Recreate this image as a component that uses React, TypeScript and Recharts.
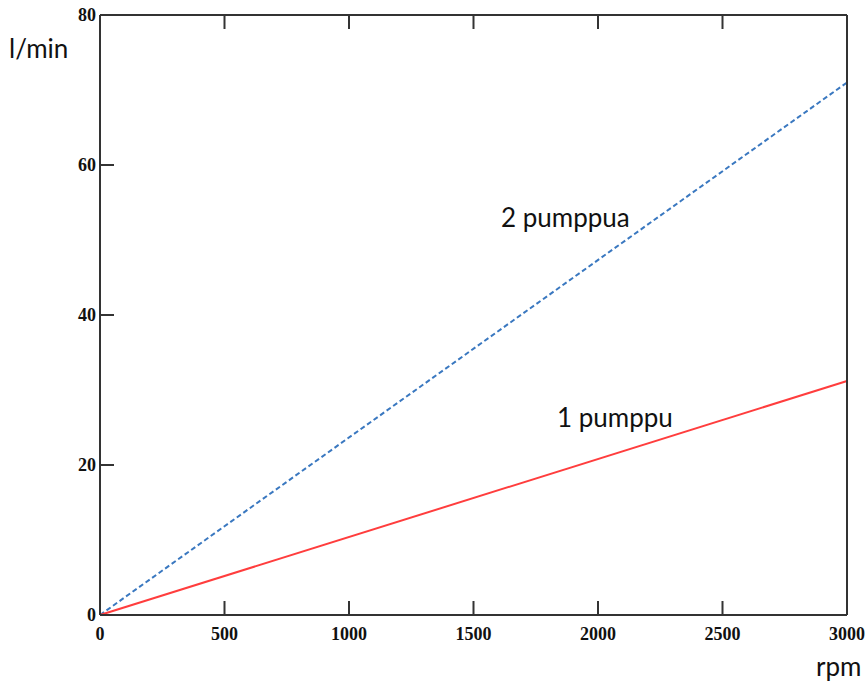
import { LineChart, Line, XAxis, YAxis } from "recharts";

// rpm vs flow (l/min)
const rpm = [0, 3000];
const onePump = [0, 31.2];
const twoPumps = [0, 71];

const xTicks = [0, 500, 1000, 1500, 2000, 2500, 3000];
const yTicks = [0, 20, 40, 60, 80];

const data = rpm.map((r, i) => ({ rpm: r, one: onePump[i], two: twoPumps[i] }));

const TICK_LEN = 14;
const GAP = 12;
const lineCol = "#333";

const textProps = {
  fontFamily: "Liberation Serif",
  fontWeight: "bold",
  fontSize: 18,
  fill: "#111",
};

// inward tick marks, drawn from the axis position recharts gives us
const InTick = ({ x, y, payload, side }: any) => {
  let line;
  let label = null;
  if (side === "bottom") {
    const ay = y - GAP;
    line = <line x1={x} x2={x} y1={ay} y2={ay - TICK_LEN} stroke={lineCol} strokeWidth={2} />;
    label = (
      <text x={x} y={ay + GAP} dy={13} textAnchor="middle" {...textProps}>
        {payload.value}
      </text>
    );
  } else if (side === "top") {
    const ay = y + GAP;
    line = <line x1={x} x2={x} y1={ay} y2={ay + TICK_LEN} stroke={lineCol} strokeWidth={2} />;
  } else if (side === "left") {
    const ax = x + GAP;
    line = <line x1={ax} x2={ax + TICK_LEN} y1={y} y2={y} stroke={lineCol} strokeWidth={2} />;
    label = (
      <text x={ax - 4} y={y} dy={6} textAnchor="end" {...textProps}>
        {payload.value}
      </text>
    );
  } else {
    const ax = x - GAP;
    line = <line x1={ax} x2={ax - TICK_LEN} y1={y} y2={y} stroke={lineCol} strokeWidth={2} />;
  }
  return (
    <g>
      {line}
      {label}
    </g>
  );
};

const axisStroke = { stroke: lineCol, strokeWidth: 2 };
const labelFont: React.CSSProperties = {
  position: "absolute",
  fontFamily: "Lato",
  fontSize: 26,
  color: "#111",
  whiteSpace: "nowrap",
  lineHeight: 1,
};

export default function App() {
  return (
    <div style={{ position: "absolute", left: 0, top: 0, width: 868, height: 683, background: "#fff" }}>
      <LineChart
        width={868}
        height={683}
        data={data}
        margin={{ top: 14, right: 20, bottom: 38, left: 50 }}
      >
        <XAxis
          xAxisId="b"
          dataKey="rpm"
          type="number"
          domain={[0, 3000]}
          ticks={xTicks}
          height={30}
          axisLine={axisStroke}
          tickLine={false}
          tickSize={0}
          tickMargin={GAP}
          tick={<InTick side="bottom" />}
          interval={0}
        />
        <XAxis
          xAxisId="t"
          orientation="top"
          dataKey="rpm"
          type="number"
          domain={[0, 3000]}
          ticks={xTicks}
          height={1}
          axisLine={axisStroke}
          tickLine={false}
          tickSize={0}
          tickMargin={GAP}
          tick={<InTick side="top" />}
          interval={0}
        />
        <YAxis
          yAxisId="l"
          type="number"
          domain={[0, 80]}
          ticks={yTicks}
          width={50}
          axisLine={axisStroke}
          tickLine={false}
          tickSize={0}
          tickMargin={GAP}
          tick={<InTick side="left" />}
          interval={0}
        />
        <YAxis
          yAxisId="r"
          orientation="right"
          type="number"
          domain={[0, 80]}
          ticks={yTicks}
          width={1}
          axisLine={axisStroke}
          tickLine={false}
          tickSize={0}
          tickMargin={GAP}
          tick={<InTick side="right" />}
          interval={0}
        />
        <Line
          xAxisId="b"
          yAxisId="l"
          type="linear"
          dataKey="two"
          stroke="#3a78c0"
          strokeWidth={2}
          strokeDasharray="5 3"
          dot={false}
          isAnimationActive={false}
        />
        <Line
          xAxisId="b"
          yAxisId="l"
          type="linear"
          dataKey="one"
          stroke="#ff3d3d"
          strokeWidth={2}
          dot={false}
          isAnimationActive={false}
        />
      </LineChart>
      <div style={{ ...labelFont, left: 9, top: 35 }}>l/min</div>
      <div style={{ ...labelFont, left: 816, top: 653 }}>rpm</div>
      <div style={{ ...labelFont, left: 501, top: 204 }}>2 pumppua</div>
      <div style={{ ...labelFont, left: 557, top: 404 }}>1 pumppu</div>
    </div>
  );
}
